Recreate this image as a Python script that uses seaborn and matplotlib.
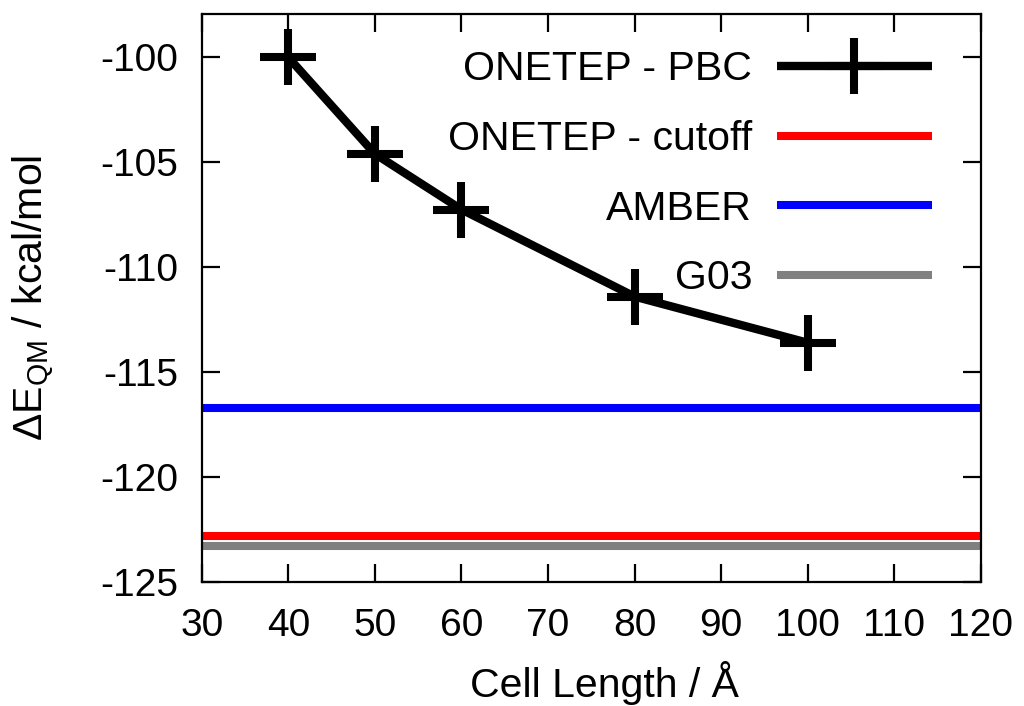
import matplotlib
matplotlib.use("Agg")
import matplotlib.pyplot as plt
import seaborn as sns
import pandas as pd

# Data
cell_length = [40, 50, 60, 80, 100]
delta_e_pbc = [-100.0, -104.6, -107.25, -111.4, -113.6]
ref_labels = ["ONETEP - cutoff", "AMBER", "G03"]
ref_values = [-122.8, -116.7, -123.3]
ref_colors = ["#ff0000", "#0000ff", "#808080"]
x_ticks = [30, 40, 50, 60, 70, 80, 90, 100, 110, 120]
y_ticks = [-125, -120, -115, -110, -105, -100]

sns.set_style("ticks")
plt.rcParams['font.family'] = ['Liberation Sans', 'DejaVu Sans']
plt.rcParams['mathtext.fontset'] = 'custom'
plt.rcParams['mathtext.rm'] = 'Liberation Sans'
plt.rcParams['mathtext.it'] = 'Liberation Sans'
plt.rcParams['mathtext.default'] = 'regular'
plt.rcParams['axes.unicode_minus'] = False
for k in ['text.color', 'axes.labelcolor', 'xtick.color', 'ytick.color', 'axes.edgecolor']:
    plt.rcParams[k] = 'black'

fig = plt.figure(figsize=(10.24, 7.06), dpi=100)
ax = fig.add_axes([0.197, 0.1756, 0.761, 0.8044])

df = pd.DataFrame({"x": cell_length, "y": delta_e_pbc})
sns.lineplot(data=df, x="x", y="y", ax=ax, color="black", linewidth=6,
             marker="+", markersize=40, markeredgewidth=5.8, markeredgecolor="black",
             solid_capstyle="butt", label="ONETEP - PBC")

for lab, val, col in zip(ref_labels, ref_values, ref_colors):
    ax.axhline(val, color=col, linewidth=5.8, solid_capstyle="butt", label=lab)

ax.set_xlim(30, 120)
ax.set_ylim(-125, -97.94)
ax.set_xticks(x_ticks)
ax.set_yticks(y_ticks)
ax.tick_params(direction="in", length=13, width=1.6, labelsize=28, top=True, right=True)
ax.tick_params(axis="x", pad=19)
ax.tick_params(axis="y", pad=17)
for sp in ax.spines.values():
    sp.set_visible(True)
    sp.set_linewidth(1.6)
    sp.set_color("black")

ax.set_xlabel("Cell Length / Å", fontsize=29.5, labelpad=12)
ax.set_ylabel(r"ΔE$_{\mathrm{QM}}$ / kcal/mol", fontsize=29.5)
ax.yaxis.set_label_coords(-0.188, 0.5)
ax.xaxis.label.set_x(0.517)

leg = ax.legend(loc="upper right", frameon=False, fontsize=29.5, markerfirst=False,
                handlelength=3.78, handletextpad=0.61, labelspacing=0.77,
                borderaxespad=0.0, borderpad=0.0, bbox_to_anchor=(0.937, 0.936))

fig.savefig("out.png", dpi=100)
